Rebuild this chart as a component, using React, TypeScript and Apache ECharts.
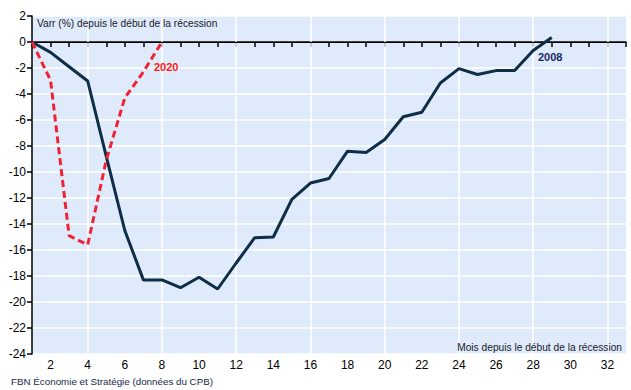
import React, { useEffect, useRef } from "react";
import * as echarts from "echarts";

const months2008 = [1, 2, 3, 4, 5, 6, 7, 8, 9, 10, 11, 12, 13, 14, 15, 16, 17, 18, 19, 20, 21, 22, 23, 24, 25, 26, 27, 28, 29];
const values2008 = [0, -0.8, -1.9, -3.0, -8.8, -14.5, -18.3, -18.3, -18.9, -18.1, -19.0, -17.0, -15.05, -15.0, -12.1, -10.85, -10.5, -8.4, -8.5, -7.5, -5.75, -5.4, -3.15, -2.05, -2.5, -2.2, -2.2, -0.65, 0.35];
const months2020 = [1, 2, 3, 4, 5, 6, 7, 8];
const values2020 = [0, -2.95, -14.9, -15.6, -9.1, -4.3, -2.3, 0];
const xGridLines = [4, 8, 12, 16, 20, 24, 28, 32];
const yTitle = "Varr (%) depuis le début de la récession";
const xTitle = "Mois depuis le début de la récession";
const sourceText = "FBN Économie et Stratégie (données du CPB)";

const FONT = "'Liberation Sans', Arial, sans-serif";

export default function App() {
  const ref = useRef<HTMLDivElement>(null);
  useEffect(() => {
    if (!ref.current) return;
    const chart = echarts.init(ref.current, undefined, { renderer: "svg" });
    chart.setOption({
      animation: false,
      textStyle: { fontFamily: FONT },
      grid: {
        left: 32,
        right: 5,
        top: 16,
        bottom: 36,
        show: true,
        backgroundColor: "#dfeafb",
        borderWidth: 0,
      },
      xAxis: {
        type: "value",
        min: 1,
        max: 33,
        interval: 1,
        axisLine: { show: true, lineStyle: { color: "#000", width: 1.5 } },
        axisTick: { show: true, length: 5, lineStyle: { color: "#000", width: 1.5 } },
        axisLabel: {
          color: "#000",
          fontSize: 12,
          margin: 5,
          fontFamily: FONT,
          formatter: (v: number) => (v % 2 === 0 ? String(v) : ""),
        },
        splitLine: { show: false },
      },
      yAxis: {
        type: "value",
        min: -24,
        max: 2,
        interval: 2,
        axisLine: { show: true, lineStyle: { color: "#000", width: 1.5 } },
        axisTick: { show: true, length: 5, lineStyle: { color: "#000", width: 1.5 } },
        axisLabel: { color: "#000", fontSize: 12, margin: 6, fontFamily: FONT },
        splitLine: { show: true, lineStyle: { color: "#ffffff", width: 1.5 } },
      },
      series: [
        {
          type: "line",
          data: [],
          z: 1,
          silent: true,
          markLine: {
            z: 1,
            silent: true,
            symbol: "none",
            label: { show: false },
            lineStyle: { color: "#ffffff", width: 1.5, type: "solid" },
            data: xGridLines.map((x) => ({ xAxis: x })),
          },
        },
        {
          type: "line",
          data: [],
          z: 2,
          silent: true,
          markLine: {
            z: 2,
            silent: true,
            symbol: "none",
            label: { show: false },
            lineStyle: { color: "#000000", width: 1.2, type: "solid" },
            data: [{ yAxis: 0 }],
          },
        },
        {
          name: "2008",
          type: "line",
          z: 3,
          data: months2008.map((m, i) => [m, values2008[i]]),
          showSymbol: false,
          lineStyle: { color: "#0e2d47", width: 3 },
        },
        {
          name: "2020",
          type: "line",
          z: 4,
          data: months2020.map((m, i) => [m, values2020[i]]),
          showSymbol: false,
          lineStyle: { color: "#ee2436", width: 3, type: [7, 4] },
        },
      ],
      graphic: [
        {
          type: "text",
          left: 37,
          top: 18,
          style: { text: yTitle, fontSize: 10.2, fill: "#1a1a2a", fontFamily: FONT },
          z: 10,
        },
        {
          type: "text",
          right: 9,
          top: 342,
          style: { text: xTitle, fontSize: 10.2, fill: "#1a1a2a", fontFamily: FONT },
          z: 10,
        },
        {
          type: "text",
          left: 11,
          top: 376,
          style: { text: sourceText, fontSize: 9.8, fill: "#1a2a4a", fontFamily: FONT },
          z: 10,
        },
        {
          type: "text",
          left: 154,
          top: 61,
          style: { text: "2020", fontSize: 11, fontWeight: "bold", fill: "#ff1a1a", fontFamily: FONT },
          z: 10,
        },
        {
          type: "text",
          left: 538,
          top: 51,
          style: { text: "2008", fontSize: 11, fontWeight: "bold", fill: "#1a2a6a", fontFamily: FONT },
          z: 10,
        },
      ],
    });
    return () => chart.dispose();
  }, []);
  return (
    <div
      ref={ref}
      style={{ position: "absolute", left: 0, top: 0, width: 631, height: 390, background: "#fff" }}
    />
  );
}
